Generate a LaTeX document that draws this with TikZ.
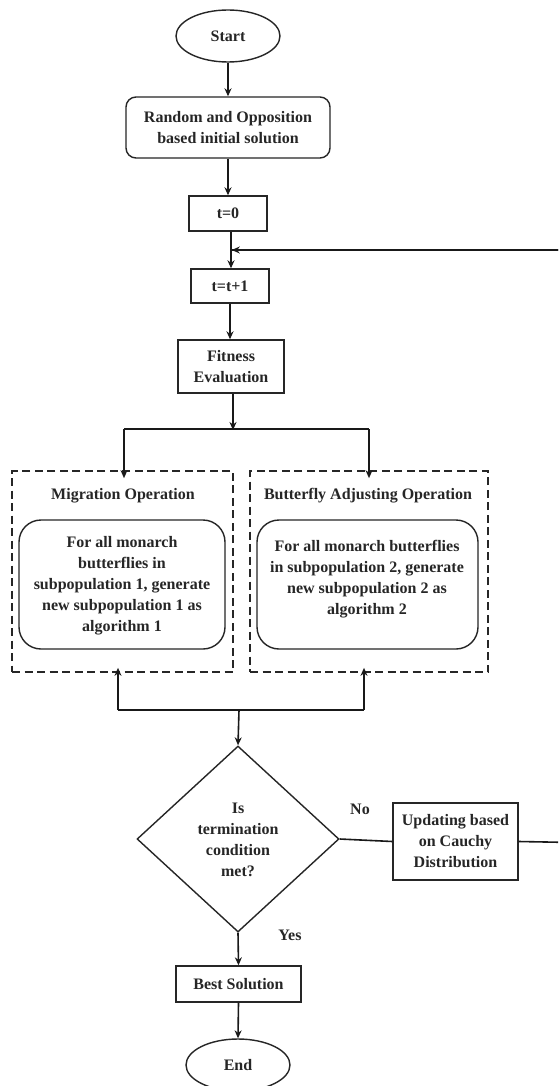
\documentclass[tikz,border=0pt]{standalone}
\usepackage{fontspec}
\setmainfont{Liberation Serif}
\usetikzlibrary{shapes.geometric,arrows.meta}
\begin{document}
\begin{tikzpicture}[x=1pt,y=-1pt,
  every node/.style={font=\fontsize{16}{21}\selectfont\bfseries, text=black!85, align=center, inner sep=0pt},
  box/.style={draw=black!85, line width=1.4pt, rectangle, minimum width=#1},
  rbox/.style={draw=black!85, line width=1.4pt, rectangle, rounded corners=10pt},
  term/.style={draw=black!85, line width=1.4pt, ellipse, minimum width=104pt, minimum height=52pt},
  dbox/.style={draw=black!85, line width=1.7pt, dash pattern=on 8pt off 4.5pt},
  arr/.style={draw=black!90, line width=1.6pt, -{Stealth[length=8pt,width=7pt]}},
  ln/.style={draw=black!90, line width=1.6pt}
]
\path[use as bounding box] (0,0) rectangle (558,1086);
\clip (0,0) rectangle (558,1086);
\fill[white] (0,0) rectangle (558,1086);

\node[term] (start) at (228,36) {Start};
\node[rbox, minimum width=204pt, minimum height=61pt] (rand) at (228,127.5) {Random and Opposition\\based initial solution};
\node[box=78pt, minimum height=35pt] (t0) at (228,213.5) {t=0};
\node[box=78pt, minimum height=34pt] (t1) at (230,286) {t=t+1};
\node[box=106pt, minimum height=53pt] (fit) at (231,366.5) {Fitness\\Evaluation};

% dashed containers
\node[dbox, minimum width=221pt, minimum height=201pt] (lbox) at (122.5,571.5) {};
\node[dbox, minimum width=238pt, minimum height=201pt] (rbox) at (369,571.5) {};
\node (lt) at (123,496) {Migration Operation};
\node (rt) at (368,496) {Butterfly Adjusting Operation};
\node[draw=black!85, line width=1.4pt, rounded corners=22pt, minimum width=206pt, minimum height=129pt] (lin) at (122,584.5) {};
\node[draw=black!85, line width=1.4pt, rounded corners=22pt, minimum width=221pt, minimum height=129pt] (rin) at (367.5,584.5) {};
\node (ltx) at (122,585.5) {For all monarch\\butterflies in\\subpopulation 1, generate\\new subpopulation 1 as\\algorithm 1};
\node (rtx) at (367,579) {For all monarch butterflies\\in subpopulation 2, generate\\new subpopulation 2 as\\algorithm 2};

% decision
\node[draw=black!85, line width=1.4pt, diamond, minimum width=202pt, minimum height=186pt] (dec) at (238,839) {};
\node (dect) at (238,840) {Is\\termination\\condition\\met?};
\node[box=125pt, minimum height=77pt] (upd) at (455.5,841.5) {Updating based\\on Cauchy\\Distribution};
\node[box=125pt, minimum height=36pt] (best) at (238.5,984) {Best Solution};
\node[term] (end) at (238,1065) {End};
\node (no) at (360,809) {No};
\node (yes) at (290,935) {Yes};

% coordinates
\coordinate (fbj) at (231,250);
\coordinate (fbr) at (600,843);
\coordinate (fbt) at (600,250);
\coordinate (sp) at (233,429);
\coordinate (spl) at (124,429);
\coordinate (spr) at (369,429);
\coordinate (jn) at (239,710);
\coordinate (jl) at (118,710);
\coordinate (jr) at (364,710);

% connectors
\draw[arr] (start.south) -- (rand.north);
\draw[arr] (rand.south -| t0.north) -- (t0.north);
\draw[arr] (t0.south -| fbj) -- (t1.north -| fbj);
\draw[ln] (upd.east) -- (fbr) -- (fbt) -- (fbj);
\draw[arr] (fbt) -- ([xshift=0.8pt]fbj);
\draw[arr] (t1.south) -- (fit.north -| t1.south);
\draw[arr] (fit.south -| sp) -- ([yshift=-1pt]sp);
\draw[ln] (spl) -- (spr);
\draw[arr] (spl) -- ([yshift=-8pt]lbox.north -| spl);
\draw[arr] (spr) -- ([yshift=-8pt]rbox.north -| spr);
\draw[arr] (jn) -- (dec.north);
\draw[ln] (jl) -- (jr);
\draw[arr] (jl) -- ([yshift=5pt]lbox.south -| jl);
\draw[arr] (jr) -- ([yshift=5pt]rbox.south -| jr);
\draw[ln] (dec.east) -- (upd.west);
\draw[arr] (dec.south) -- (best.north);
\draw[arr] (best.south) -- (end.north);
\end{tikzpicture}
\end{document}
